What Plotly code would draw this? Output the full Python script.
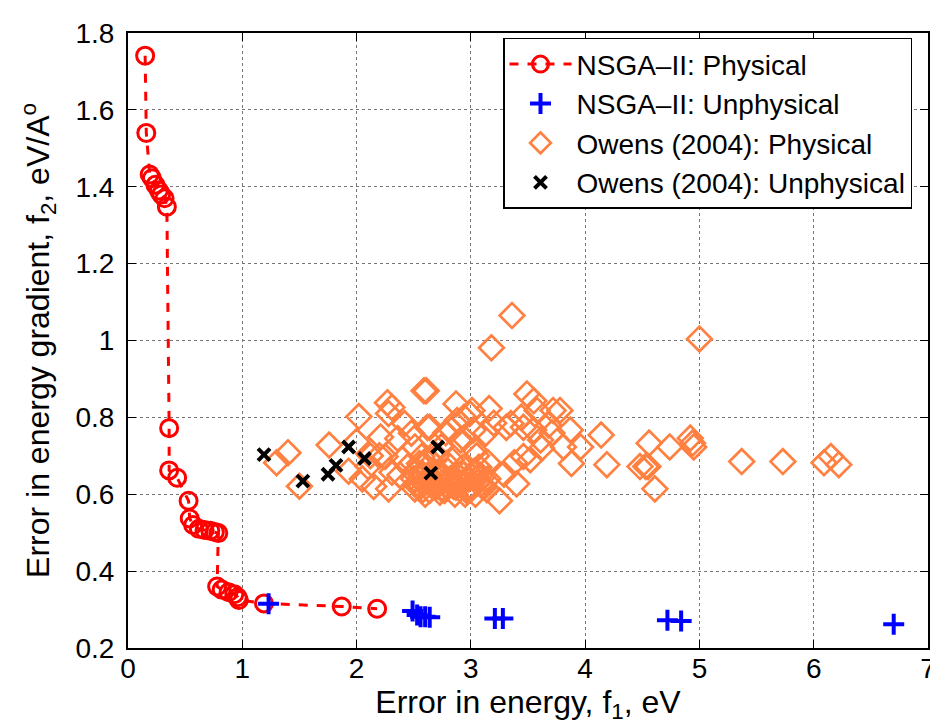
import plotly.graph_objects as go

# NSGA-II: Physical (Pareto front)
nsga_phys_x = [0.15, 0.16, 0.19, 0.21, 0.24, 0.27, 0.29, 0.32, 0.34, 0.36, 0.36, 0.43,
               0.53, 0.54, 0.57, 0.62, 0.67, 0.72, 0.76, 0.79, 0.78, 0.82, 0.88, 0.93,
               0.96, 0.97, 1.19, 1.87, 2.18]
nsga_phys_y = [1.741, 1.54, 1.432, 1.422, 1.405, 1.39, 1.38, 1.37, 1.348, 0.772, 0.662, 0.643,
               0.583, 0.537, 0.52, 0.51, 0.507, 0.505, 0.502, 0.499, 0.36, 0.352, 0.345, 0.34,
               0.332, 0.325, 0.316, 0.308, 0.302]

# NSGA-II: Unphysical
nsga_unphys_x = [1.23, 2.49, 2.53, 2.56, 2.60, 2.64, 3.21, 3.28, 4.72, 4.84, 6.70]
nsga_unphys_y = [0.315, 0.296, 0.286, 0.281, 0.281, 0.280, 0.277, 0.277, 0.272, 0.270, 0.262]

# Owens (2004): Physical
owens_phys_x = [1.30, 1.40, 1.50, 1.76, 2.02, 1.93, 2.00, 2.05, 2.10, 2.15, 2.21, 2.27,
                2.28, 2.31, 2.25, 2.31, 2.28, 2.42, 2.48, 2.51, 2.45, 2.51, 2.59, 2.62,
                2.57, 2.74, 2.87, 2.94, 2.99, 3.02, 2.91, 2.83, 3.36, 3.18, 2.61, 3.01,
                3.16, 2.88, 2.94, 2.64, 3.13, 3.20, 3.31, 3.03, 3.15, 3.29, 3.40, 3.25,
                3.10, 3.38, 3.46, 3.52, 3.49, 3.55, 3.58, 3.44, 3.46, 3.35, 3.55, 3.61,
                3.72, 3.78, 3.71, 3.81, 3.87, 3.96, 4.14, 4.19, 4.48, 4.56, 4.53, 4.61,
                5.00, 4.55, 4.74, 4.92, 4.94, 4.95, 5.37, 5.73, 6.09, 6.15, 6.22, 2.20,
                2.36, 2.40, 2.55, 2.70, 2.78, 3.05, 3.62, 3.88, 3.68, 2.12, 2.38,
                2.50, 2.53, 2.56, 2.58, 2.60, 2.62, 2.64, 2.66, 2.68, 2.70, 2.72, 2.75,
                2.77, 2.80, 2.82, 2.85, 2.88, 2.90, 2.93, 2.96, 2.98, 3.00, 3.03, 3.06,
                3.08, 3.12, 3.15, 2.55, 2.60, 2.67, 2.73, 2.79, 2.86, 2.92, 2.97, 3.04,
                3.10, 2.64, 2.71, 2.83, 2.95, 3.07, 2.52, 2.58, 2.63, 2.69, 2.74, 2.81,
                2.87, 2.91, 2.99, 3.02, 3.09, 3.14, 2.57, 2.66, 2.76, 2.84, 2.94, 3.01]
owens_phys_y = [0.682, 0.708, 0.621, 0.728, 0.802, 0.660, 0.737, 0.640, 0.672, 0.620, 0.749, 0.838,
                0.810, 0.826, 0.698, 0.657, 0.614, 0.784, 0.759, 0.723, 0.672, 0.614, 0.869, 0.774,
                0.698, 0.723, 0.835, 0.800, 0.810, 0.767, 0.741, 0.767, 1.065, 0.981, 0.869, 0.818,
                0.823, 0.792, 0.746, 0.774, 0.759, 0.785, 0.774, 0.716, 0.682, 0.652, 0.627, 0.583,
                0.621, 0.682, 0.698, 0.690, 0.861, 0.843, 0.818, 0.800, 0.774, 0.784, 0.767, 0.741,
                0.818, 0.818, 0.759, 0.723, 0.767, 0.723, 0.754, 0.677, 0.672, 0.733, 0.672, 0.614,
                1.004, 0.672, 0.723, 0.746, 0.733, 0.723, 0.685, 0.685, 0.682, 0.698, 0.677, 0.700,
                0.745, 0.690, 0.640, 0.700, 0.760, 0.700, 0.720, 0.680, 0.780, 0.700, 0.650,
                0.640, 0.660, 0.620, 0.650, 0.630, 0.670, 0.610, 0.640, 0.660, 0.620, 0.650, 0.630,
                0.610, 0.660, 0.640, 0.620, 0.650, 0.630, 0.670, 0.610, 0.640, 0.620, 0.660, 0.630,
                0.650, 0.620, 0.640, 0.680, 0.600, 0.630, 0.605, 0.680, 0.600, 0.655, 0.615, 0.600,
                0.645, 0.690, 0.625, 0.690, 0.600, 0.670, 0.625, 0.612, 0.645, 0.628, 0.615, 0.632,
                0.618, 0.642, 0.612, 0.645, 0.628, 0.612, 0.655, 0.622, 0.648, 0.626, 0.652, 0.616]

# Owens (2004): Unphysical
owens_unphys_x = [1.19, 1.53, 1.75, 1.82, 1.93, 2.07, 2.71, 2.65]
owens_unphys_y = [0.703, 0.634, 0.652, 0.675, 0.723, 0.693, 0.723, 0.655]

x_ticks = [0, 1, 2, 3, 4, 5, 6, 7]
y_ticks = [0.2, 0.4, 0.6, 0.8, 1.0, 1.2, 1.4, 1.6, 1.8]
y_tick_text = ["0.2", "0.4", "0.6", "0.8", "1", "1.2", "1.4", "1.6", "1.8"]

orange = "#FF8040"
font_family = "Liberation Sans, Arial, sans-serif"

fig = go.Figure()

fig.add_trace(go.Scatter(
    x=owens_phys_x, y=owens_phys_y, mode="markers", name="Owens (2004): Physical",
    marker=dict(symbol="diamond-open", size=19, color=orange, line=dict(width=2.7, color=orange)),
    legendrank=3,
))
fig.add_trace(go.Scatter(
    x=owens_unphys_x, y=owens_unphys_y, mode="markers", name="Owens (2004): Unphysical",
    marker=dict(symbol="x-thin", size=12, color="black", line=dict(width=4, color="black")),
    legendrank=4,
))
fig.add_trace(go.Scatter(
    x=nsga_phys_x, y=nsga_phys_y, mode="lines+markers", name="NSGA\u2013II: Physical",
    line=dict(color="#FF0000", width=3, dash="dash"),
    marker=dict(symbol="circle-open", size=17, color="#FF0000", line=dict(width=3, color="#FF0000")),
    legendrank=1,
))
fig.add_trace(go.Scatter(
    x=nsga_unphys_x, y=nsga_unphys_y, mode="markers", name="NSGA\u2013II: Unphysical",
    marker=dict(symbol="cross-thin", size=15, color="#0000FF", line=dict(width=4, color="#0000FF")),
    legendrank=2,
))

axis_common = dict(
    showline=True, linecolor="black", linewidth=2, mirror="allticks",
    ticks="inside", ticklen=8, tickwidth=1, tickcolor="black",
    showgrid=True, gridcolor="#777777", gridwidth=1, griddash="dot",
    zeroline=False, tickfont=dict(size=28, color="black", family=font_family),
    ticklabeloverflow="allow",
)

fig.update_xaxes(
    range=[0, 7], tickvals=x_ticks, ticktext=[str(v) for v in x_ticks],
    title=dict(text="Error in energy, f<sub>1</sub>, eV", font=dict(size=32, color="black", family=font_family), standoff=0),
    ticklabelstandoff=-6,
    **axis_common,
)
fig.update_yaxes(
    range=[0.2, 1.8], tickvals=y_ticks, ticktext=y_tick_text,
    title=dict(text="Error in energy gradient, f<sub>2</sub>, eV/A<sup>o</sup>", font=dict(size=32, color="black", family=font_family), standoff=16),
    ticklabelstandoff=6,
    **axis_common,
)

fig.update_layout(
    width=938, height=724,
    margin=dict(l=120, r=10, t=18, b=84),
    paper_bgcolor="white", plot_bgcolor="white",
    font=dict(family=font_family, color="black"),
    showlegend=True,
    legend=dict(
        x=0.98, y=0.992, xanchor="right", yanchor="top",
        bgcolor="white", bordercolor="black", borderwidth=1.5,
        font=dict(size=28, color="black", family=font_family),
        tracegroupgap=0, itemwidth=62,
    ),
)

fig.write_html("out.html")
